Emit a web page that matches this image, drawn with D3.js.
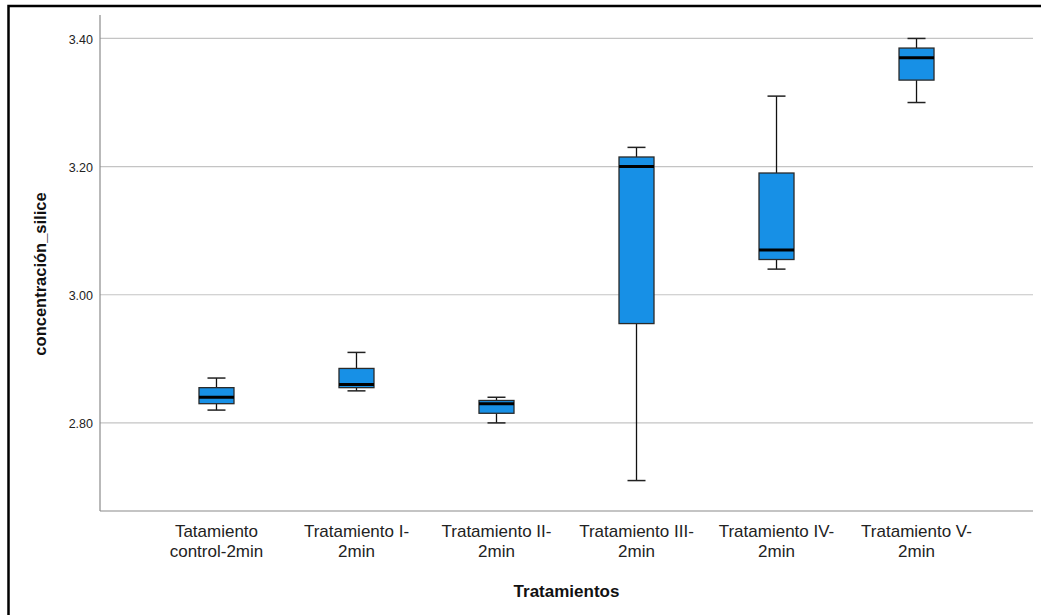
<!DOCTYPE html>
<html>
<head>
<meta charset="utf-8">
<script src="https://cdn.jsdelivr.net/npm/d3@7"></script>
<style>
  body { margin: 0; background: #fff; }
  svg { display: block; font-family: "Liberation Sans", Arial, sans-serif; }
</style>
</head>
<body>
<div id="chart"></div>
<script>
'use strict';

// categories (tick labels, two lines each)
var categories = ['control', 'I', 'II', 'III', 'IV', 'V'];
var categoryLines = [
  ['Tatamiento', 'control-2min'],
  ['Tratamiento I-', '2min'],
  ['Tratamiento II-', '2min'],
  ['Tratamiento III-', '2min'],
  ['Tratamiento IV-', '2min'],
  ['Tratamiento V-', '2min']
];

// box plot stats
var whiskerLow  = [2.820, 2.850, 2.800, 2.710, 3.040, 3.300];
var quart1      = [2.830, 2.855, 2.815, 2.955, 3.055, 3.335];
var medians     = [2.840, 2.860, 2.830, 3.200, 3.070, 3.370];
var quart3      = [2.855, 2.885, 2.835, 3.215, 3.190, 3.385];
var whiskerHigh = [2.870, 2.910, 2.840, 3.230, 3.310, 3.400];

var yTicks = [2.8, 3.0, 3.2, 3.4];

(function() {
  var width = 1041, height = 615;
  var plotL = 100, plotR = 1033, plotT = 15, plotB = 511;

  var svg = d3.select('#chart')
      .append('svg')
      .attr('width', width)
      .attr('height', height);

  // outer frame (runs off the right and bottom edge)
  svg.append('rect')
      .attr('x', 8.5).attr('y', 6)
      .attr('width', 1100).attr('height', 700)
      .attr('fill', 'none')
      .attr('stroke', '#000')
      .attr('stroke-width', 2.5);

  var x = d3.scalePoint()
      .domain(categories)
      .range([plotL, plotR])
      .padding(0.832);

  var y = d3.scaleLinear()
      .domain([2.6625, 3.4366])
      .range([plotB, plotT]);

  // grid lines
  svg.append('g')
    .selectAll('line')
    .data(yTicks)
    .enter()
      .append('line')
      .attr('x1', plotL).attr('x2', plotR)
      .attr('y1', function(d){ return y(d); })
      .attr('y2', function(d){ return y(d); })
      .attr('stroke', '#c4c4c4')
      .attr('stroke-width', 1.2);

  // y axis labels
  var yAxis = svg.append('g')
      .attr('transform', 'translate(' + plotL + ',0)')
      .call(d3.axisLeft(y).tickValues(yTicks).tickSize(0).tickPadding(7)
        .tickFormat(d3.format('.2f')));
  yAxis.select('.domain').remove();
  yAxis.selectAll('text')
      .attr('dy', '0.62em')
      .attr('y', -3)
      .attr('font-size', 12.5)
      .attr('font-family', '"Liberation Sans", Arial, sans-serif')
      .attr('fill', '#222');

  // axis lines
  svg.append('line')
      .attr('x1', plotL).attr('x2', plotL)
      .attr('y1', plotT).attr('y2', plotB)
      .attr('stroke', '#8a8a8a').attr('stroke-width', 1.2);
  svg.append('line')
      .attr('x1', plotL).attr('x2', plotR)
      .attr('y1', plotB).attr('y2', plotB)
      .attr('stroke', '#8a8a8a').attr('stroke-width', 1.2);

  // boxes
  var boxW = 35, capW = 18;
  var g = svg.append('g');
  categories.forEach(function(c, i){
    var cx = x(c);
    // whisker stems
    g.append('line')
      .attr('x1', cx).attr('x2', cx)
      .attr('y1', y(whiskerHigh[i])).attr('y2', y(quart3[i]))
      .attr('stroke', '#111').attr('stroke-width', 1.3);
    g.append('line')
      .attr('x1', cx).attr('x2', cx)
      .attr('y1', y(quart1[i])).attr('y2', y(whiskerLow[i]))
      .attr('stroke', '#111').attr('stroke-width', 1.3);
    // caps
    [whiskerHigh[i], whiskerLow[i]].forEach(function(v){
      g.append('line')
        .attr('x1', cx - capW / 2).attr('x2', cx + capW / 2)
        .attr('y1', y(v)).attr('y2', y(v))
        .attr('stroke', '#222').attr('stroke-width', 1.5);
    });
    // box
    g.append('rect')
      .attr('x', cx - boxW / 2)
      .attr('y', y(quart3[i]))
      .attr('width', boxW)
      .attr('height', y(quart1[i]) - y(quart3[i]))
      .attr('fill', '#1790e6')
      .attr('stroke', '#2a2a2a')
      .attr('stroke-width', 1.3);
    // median
    g.append('line')
      .attr('x1', cx - boxW / 2).attr('x2', cx + boxW / 2)
      .attr('y1', y(medians[i])).attr('y2', y(medians[i]))
      .attr('stroke', '#000').attr('stroke-width', 3);
  });

  // category labels
  var labels = svg.append('g')
    .selectAll('text')
    .data(categories)
    .enter()
      .append('text')
      .attr('text-anchor', 'middle')
      .attr('font-size', 17)
      .attr('fill', '#222');
  labels.each(function(c, i){
    var t = d3.select(this);
    categoryLines[i].forEach(function(line, k){
      t.append('tspan')
        .attr('x', x(c))
        .attr('y', 537 + k * 20)
        .text(line);
    });
  });

  // axis titles
  svg.append('text')
      .attr('x', (plotL + plotR) / 2)
      .attr('y', 597)
      .attr('text-anchor', 'middle')
      .attr('font-size', 17)
      .attr('font-weight', 'bold')
      .attr('fill', '#111')
      .text('Tratamientos');

  svg.append('text')
      .attr('transform', 'translate(46,274) rotate(-90)')
      .attr('text-anchor', 'middle')
      .attr('font-size', 16.5)
      .attr('font-weight', 'bold')
      .attr('fill', '#111')
      .text('concentración_silice');
})();
</script>
</body>
</html>
